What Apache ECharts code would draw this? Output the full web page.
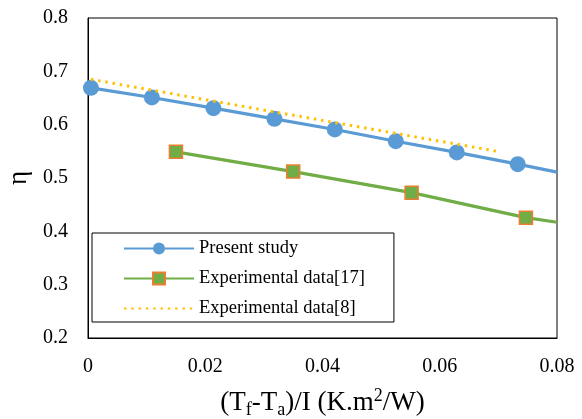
<!DOCTYPE html>
<html>
<head>
<meta charset="utf-8">
<script src="https://cdn.jsdelivr.net/npm/echarts@6/dist/echarts.min.js"></script>
<style>html,body{margin:0;padding:0;background:#fff}#c{width:582px;height:419px}</style>
</head>
<body>
<div id="c"></div>
<script>
// Data
const seriesNames = ['Present study', 'Experimental data[17]', 'Experimental data[8]'];
const presentX = [0.0005, 0.0109, 0.0214, 0.0318, 0.0421, 0.0525, 0.0629, 0.0733];
const presentY = [0.669, 0.651, 0.631, 0.611, 0.591, 0.569, 0.548, 0.526];
const presentTail = [0.08, 0.511];
const exp17X = [0.0150, 0.0350, 0.0552, 0.0747];
const exp17Y = [0.549, 0.512, 0.4725, 0.4256];
const exp17Tail = [0.08, 0.417];
const exp8X = [0.0005, 0.0379, 0.0703];
const exp8Y = [0.685, 0.612, 0.549];
const xTicks = [0, 0.02, 0.04, 0.06, 0.08];
const yTicks = [0.2, 0.3, 0.4, 0.5, 0.6, 0.7, 0.8];

const FONT = '"Liberation Serif", "Times New Roman", serif';
const pts = (xs, ys) => xs.map((x, i) => [x, ys[i]]);
const presentData = pts(presentX, presentY).concat([{ value: presentTail, symbol: 'none' }]);
const exp17Data = pts(exp17X, exp17Y).concat([{ value: exp17Tail, symbol: 'none' }]);
const exp8Data = pts(exp8X, exp8Y);

const chart = echarts.init(document.getElementById('c'), null, { renderer: 'canvas' });
chart.setOption({
  animation: false,
  backgroundColor: '#fff',
  textStyle: { fontFamily: FONT, color: '#000' },
  grid: { left: 88, right: 25, top: 18, bottom: 81, show: true, borderColor: '#000', borderWidth: 1,
    backgroundColor: 'transparent', containLabel: false, outerBoundsMode: 'none' },
  xAxis: {
    type: 'value',
    min: xTicks[0], max: xTicks[xTicks.length - 1], interval: xTicks[1] - xTicks[0],
    axisLine: { show: true, onZero: false, lineStyle: { color: '#000', width: 1 } },
    axisTick: { show: false },
    splitLine: { show: false },
    axisLabel: { color: '#000', fontFamily: FONT, fontSize: 20, margin: 19,
      formatter: v => (Math.abs(v) < 1e-9 ? '0' : v.toFixed(2)) },
    name: '(T{sub|f}-T{sub|a})/I (K.m{sup|2}/W)',
    nameLocation: 'middle',
    nameGap: 49,
    nameTextStyle: {
      color: '#000', fontFamily: FONT, fontSize: 27, lineHeight: 32,
      rich: {
        sub: { fontFamily: FONT, fontSize: 18, lineHeight: 18, verticalAlign: 'bottom', color: '#000' },
        sup: { fontFamily: FONT, fontSize: 18, lineHeight: 18, verticalAlign: 'top', color: '#000' }
      }
    }
  },
  yAxis: {
    type: 'value',
    min: yTicks[0], max: yTicks[yTicks.length - 1], interval: 0.1,
    axisLine: { show: true, onZero: false, lineStyle: { color: '#000', width: 1 } },
    axisTick: { show: false },
    splitLine: { show: false },
    axisLabel: { color: '#000', fontFamily: FONT, fontSize: 20, margin: 20,
      formatter: v => v.toFixed(1) },
    name: 'η',
    nameLocation: 'middle',
    nameRotate: 90,
    nameGap: 54,
    nameTextStyle: { color: '#000', fontFamily: FONT, fontSize: 27 }
  },
  legend: {
    orient: 'vertical',
    left: 92, top: 233,
    padding: [6, 29, 4, 31],
    itemWidth: 70, itemHeight: 15, itemGap: 11, itemTextGap: 7,
    backgroundColor: '#fff', borderColor: '#000', borderWidth: 1,
    textStyle: { fontFamily: FONT, fontSize: 18.5, lineHeight: 18, color: '#000' },
    data: [
      { name: seriesNames[0] },
      { name: seriesNames[1] },
      { name: seriesNames[2], itemStyle: { opacity: 0 } }
    ]
  },
  series: [
    {
      name: seriesNames[0], type: 'line', data: presentData,
      symbol: 'circle', symbolSize: 16,
      lineStyle: { color: '#5B9BD5', width: 3.2 },
      itemStyle: { color: '#5B9BD5' },
      z: 2
    },
    {
      name: seriesNames[1], type: 'line', data: exp17Data,
      symbol: 'rect', symbolSize: 13,
      lineStyle: { color: '#70AD47', width: 3.2 },
      itemStyle: { color: '#70AD47', borderColor: '#ED7D31', borderWidth: 1.5 },
      z: 2
    },
    {
      name: seriesNames[2], type: 'line', data: exp8Data,
      symbol: 'none', showSymbol: false,
      lineStyle: { color: '#FFC000', width: 3, type: [2.5, 4.8] },
      itemStyle: { color: '#FFC000' },
      z: 3
    }
  ]
});
</script>
</body>
</html>
